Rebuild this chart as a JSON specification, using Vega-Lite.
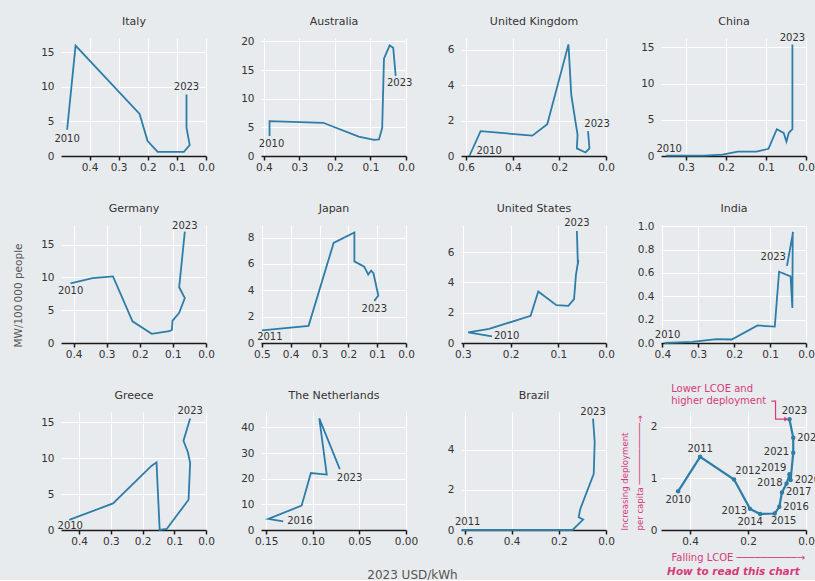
{
  "$schema": "https://vega.github.io/schema/vega-lite/v6.json",
  "background": "#e8ebee",
  "padding": {"left": 13, "top": 15, "right": 0, "bottom": 0},
  "columns": 4,
  "spacing": {"row": 69, "column": 55},
  "bounds": "flush",
  "datasets": {
    "pv": [
      {"c":"Italy","i":0,"x":0.477,"y":3.8,"label":"2010"},
      {"c":"Italy","i":1,"x":0.448,"y":16.0},
      {"c":"Italy","i":2,"x":0.228,"y":6.1},
      {"c":"Italy","i":3,"x":0.201,"y":2.2},
      {"c":"Italy","i":4,"x":0.166,"y":0.6},
      {"c":"Italy","i":5,"x":0.076,"y":0.6},
      {"c":"Italy","i":6,"x":0.056,"y":1.6},
      {"c":"Italy","i":7,"x":0.067,"y":4.1},
      {"c":"Italy","i":8,"x":0.067,"y":8.9,"label":"2023"},

      {"c":"Australia","i":0,"x":0.384,"y":3.5,"label":"2010"},
      {"c":"Australia","i":1,"x":0.384,"y":6.1},
      {"c":"Australia","i":2,"x":0.233,"y":5.8},
      {"c":"Australia","i":3,"x":0.133,"y":3.4},
      {"c":"Australia","i":4,"x":0.090,"y":2.8},
      {"c":"Australia","i":5,"x":0.076,"y":2.9},
      {"c":"Australia","i":6,"x":0.067,"y":4.9},
      {"c":"Australia","i":7,"x":0.062,"y":17.0},
      {"c":"Australia","i":8,"x":0.046,"y":19.3},
      {"c":"Australia","i":9,"x":0.036,"y":18.9},
      {"c":"Australia","i":10,"x":0.029,"y":14.0,"label":"2023"},

      {"c":"UK","i":0,"x":0.586,"y":0.0,"label":"2010"},
      {"c":"UK","i":1,"x":0.538,"y":1.4},
      {"c":"UK","i":2,"x":0.316,"y":1.15},
      {"c":"UK","i":3,"x":0.252,"y":1.8},
      {"c":"UK","i":4,"x":0.161,"y":6.3},
      {"c":"UK","i":5,"x":0.149,"y":3.45},
      {"c":"UK","i":6,"x":0.122,"y":1.2},
      {"c":"UK","i":7,"x":0.125,"y":0.43},
      {"c":"UK","i":8,"x":0.088,"y":0.2},
      {"c":"UK","i":9,"x":0.071,"y":0.43},
      {"c":"UK","i":10,"x":0.077,"y":1.4,"label":"2023"},

      {"c":"China","i":0,"x":0.35,"y":0.05,"label":"2010"},
      {"c":"China","i":1,"x":0.256,"y":0.05},
      {"c":"China","i":2,"x":0.209,"y":0.2},
      {"c":"China","i":3,"x":0.171,"y":0.6},
      {"c":"China","i":4,"x":0.124,"y":0.6},
      {"c":"China","i":5,"x":0.094,"y":1.0},
      {"c":"China","i":6,"x":0.073,"y":3.7},
      {"c":"China","i":7,"x":0.056,"y":3.2},
      {"c":"China","i":8,"x":0.049,"y":2.0},
      {"c":"China","i":9,"x":0.043,"y":3.2},
      {"c":"China","i":10,"x":0.034,"y":3.7},
      {"c":"China","i":11,"x":0.034,"y":15.4,"label":"2023"},

      {"c":"Germany","i":0,"x":0.409,"y":9.1,"label":"2010"},
      {"c":"Germany","i":1,"x":0.343,"y":9.9},
      {"c":"Germany","i":2,"x":0.281,"y":10.15},
      {"c":"Germany","i":3,"x":0.222,"y":3.3},
      {"c":"Germany","i":4,"x":0.164,"y":1.4},
      {"c":"Germany","i":5,"x":0.111,"y":1.8},
      {"c":"Germany","i":6,"x":0.103,"y":2.0},
      {"c":"Germany","i":7,"x":0.101,"y":3.4},
      {"c":"Germany","i":8,"x":0.081,"y":4.6},
      {"c":"Germany","i":9,"x":0.064,"y":6.85},
      {"c":"Germany","i":10,"x":0.081,"y":8.5},
      {"c":"Germany","i":11,"x":0.064,"y":17.0,"label":"2023"},

      {"c":"Japan","i":0,"x":0.500,"y":0.96,"label":"2011"},
      {"c":"Japan","i":1,"x":0.338,"y":1.3},
      {"c":"Japan","i":2,"x":0.251,"y":7.6},
      {"c":"Japan","i":3,"x":0.179,"y":8.4},
      {"c":"Japan","i":4,"x":0.179,"y":6.2},
      {"c":"Japan","i":5,"x":0.145,"y":5.8},
      {"c":"Japan","i":6,"x":0.131,"y":5.2},
      {"c":"Japan","i":7,"x":0.121,"y":5.5},
      {"c":"Japan","i":8,"x":0.113,"y":5.3},
      {"c":"Japan","i":9,"x":0.096,"y":3.6},
      {"c":"Japan","i":10,"x":0.110,"y":3.2,"label":"2023"},

      {"c":"US","i":0,"x":0.239,"y":0.44,"label":"2010"},
      {"c":"US","i":1,"x":0.289,"y":0.7},
      {"c":"US","i":2,"x":0.245,"y":0.93},
      {"c":"US","i":3,"x":0.158,"y":1.8},
      {"c":"US","i":4,"x":0.142,"y":3.4},
      {"c":"US","i":5,"x":0.104,"y":2.5},
      {"c":"US","i":6,"x":0.079,"y":2.45},
      {"c":"US","i":7,"x":0.067,"y":2.9},
      {"c":"US","i":8,"x":0.063,"y":4.5},
      {"c":"US","i":9,"x":0.058,"y":5.5},
      {"c":"US","i":10,"x":0.059,"y":5.2},
      {"c":"US","i":11,"x":0.061,"y":7.4,"label":"2023"},

      {"c":"India","i":0,"x":0.394,"y":0.0,"label":"2010"},
      {"c":"India","i":1,"x":0.317,"y":0.01},
      {"c":"India","i":2,"x":0.250,"y":0.034},
      {"c":"India","i":3,"x":0.207,"y":0.03},
      {"c":"India","i":4,"x":0.135,"y":0.15},
      {"c":"India","i":5,"x":0.087,"y":0.14},
      {"c":"India","i":6,"x":0.075,"y":0.61},
      {"c":"India","i":7,"x":0.043,"y":0.57},
      {"c":"India","i":8,"x":0.038,"y":0.30},
      {"c":"India","i":9,"x":0.037,"y":0.94},
      {"c":"India","i":10,"x":0.036,"y":0.95},
      {"c":"India","i":11,"x":0.053,"y":0.66,"label":"2023"},

      {"c":"Greece","i":0,"x":0.431,"y":1.4,"label":"2010"},
      {"c":"Greece","i":1,"x":0.293,"y":3.7},
      {"c":"Greece","i":2,"x":0.172,"y":8.9},
      {"c":"Greece","i":3,"x":0.156,"y":9.4},
      {"c":"Greece","i":4,"x":0.146,"y":0.0},
      {"c":"Greece","i":5,"x":0.124,"y":0.14},
      {"c":"Greece","i":6,"x":0.055,"y":4.2},
      {"c":"Greece","i":7,"x":0.050,"y":9.35},
      {"c":"Greece","i":8,"x":0.057,"y":10.8},
      {"c":"Greece","i":9,"x":0.071,"y":12.4},
      {"c":"Greece","i":10,"x":0.050,"y":15.5,"label":"2023"},

      {"c":"NL","i":0,"x":0.1317,"y":3.4,"label":"2016"},
      {"c":"NL","i":1,"x":0.1476,"y":4.3},
      {"c":"NL","i":2,"x":0.112,"y":9.5},
      {"c":"NL","i":3,"x":0.108,"y":14.5},
      {"c":"NL","i":4,"x":0.102,"y":22.2},
      {"c":"NL","i":5,"x":0.085,"y":21.6},
      {"c":"NL","i":6,"x":0.093,"y":43.5},
      {"c":"NL","i":7,"x":0.071,"y":23.7,"label":"2023"},

      {"c":"Brazil","i":0,"x":0.612,"y":0.0,"label":"2011"},
      {"c":"Brazil","i":1,"x":0.142,"y":0.0},
      {"c":"Brazil","i":2,"x":0.097,"y":0.52},
      {"c":"Brazil","i":3,"x":0.116,"y":0.63},
      {"c":"Brazil","i":4,"x":0.109,"y":1.05},
      {"c":"Brazil","i":5,"x":0.052,"y":2.8},
      {"c":"Brazil","i":6,"x":0.048,"y":4.4},
      {"c":"Brazil","i":7,"x":0.055,"y":5.55,"label":"2023"},

      {"c":"How","i":0,"x":0.441,"y":0.75,"label":"2010"},
      {"c":"How","i":1,"x":0.365,"y":1.42,"label":"2011"},
      {"c":"How","i":2,"x":0.248,"y":0.98,"label":"2012"},
      {"c":"How","i":3,"x":0.193,"y":0.41,"label":"2013"},
      {"c":"How","i":4,"x":0.158,"y":0.31,"label":"2014"},
      {"c":"How","i":5,"x":0.108,"y":0.32,"label":"2015"},
      {"c":"How","i":6,"x":0.092,"y":0.45,"label":"2016"},
      {"c":"How","i":7,"x":0.083,"y":0.73,"label":"2017"},
      {"c":"How","i":8,"x":0.067,"y":0.90,"label":"2018"},
      {"c":"How","i":9,"x":0.057,"y":1.08,"label":"2019"},
      {"c":"How","i":10,"x":0.053,"y":0.97,"label":"2020"},
      {"c":"How","i":11,"x":0.044,"y":1.50,"label":"2021"},
      {"c":"How","i":12,"x":0.044,"y":1.79,"label":"2022"},
      {"c":"How","i":13,"x":0.057,"y":2.15,"label":"2023"}
    ],
    "ann": [
      {"k":"b","i":0,"x":0.119,"y":2.50},
      {"k":"b","i":1,"x":0.105,"y":2.50},
      {"k":"b","i":2,"x":0.105,"y":2.15},
      {"k":"b","i":3,"x":0.072,"y":2.15},
      {"k":"h","i":0,"x":0.068,"y":2.15},
      {"k":"t","i":0,"x":0.465,"y":2.73,"t":"Lower LCOE and"},
      {"k":"t","i":1,"x":0.465,"y":2.50,"t":"higher deployment"}
    ]
  },
  "concat": [
    {
      "width": 145, "height": 118,
      "data": {"name": "pv"}, "transform": [{"filter": "datum.c == 'Italy'"}],
      "encoding": {
        "x": {"field": "x", "type": "quantitative", "scale": {"domain": [0, 0.498], "reverse": true, "nice": false, "zero": false}, "axis": {"values": [0.4, 0.3, 0.2, 0.1, 0], "format": ".1f", "title": null}},
        "y": {"field": "y", "type": "quantitative", "scale": {"domain": [0, 17.1], "nice": false}, "axis": {"values": [0, 5, 10, 15], "title": "Italy", "style": "paneltitle", "titleAngle": 0, "titleX": 72.5, "titleY": -14, "titleAlign": "center", "titleBaseline": "alphabetic"}}
      },
      "layer": [
        {"mark": {"type": "line", "color": "#2e7ca8", "strokeWidth": 1.8}, "encoding": {"order": {"field": "i", "type": "quantitative"}}},
        {"transform": [{"filter": "datum.label && datum.label != '2023'"}], "mark": {"type": "text", "dy": 9}, "encoding": {"text": {"field": "label"}}},
        {"transform": [{"filter": "datum.label == '2023'"}], "mark": {"type": "text", "dy": -8}, "encoding": {"text": {"field": "label"}}}
      ]
    },
    {
      "width": 145, "height": 118,
      "data": {"name": "pv"}, "transform": [{"filter": "datum.c == 'Australia'"}],
      "encoding": {
        "x": {"field": "x", "type": "quantitative", "scale": {"domain": [0, 0.408], "reverse": true, "nice": false, "zero": false}, "axis": {"values": [0.4, 0.3, 0.2, 0.1, 0], "format": ".1f", "title": null}},
        "y": {"field": "y", "type": "quantitative", "scale": {"domain": [0, 20.6], "nice": false}, "axis": {"values": [0, 5, 10, 15, 20], "title": "Australia", "style": "paneltitle", "titleAngle": 0, "titleX": 72.5, "titleY": -14, "titleAlign": "center", "titleBaseline": "alphabetic"}}
      },
      "layer": [
        {"mark": {"type": "line", "color": "#2e7ca8", "strokeWidth": 1.8}, "encoding": {"order": {"field": "i", "type": "quantitative"}}},
        {"transform": [{"filter": "datum.label && datum.label != '2023'"}], "mark": {"type": "text", "dx": 2, "dy": 8}, "encoding": {"text": {"field": "label"}}},
        {"transform": [{"filter": "datum.label == '2023'"}], "mark": {"type": "text", "dx": 4, "dy": 7}, "encoding": {"text": {"field": "label"}}}
      ]
    },
    {
      "width": 145, "height": 118,
      "data": {"name": "pv"}, "transform": [{"filter": "datum.c == 'UK'"}],
      "encoding": {
        "x": {"field": "x", "type": "quantitative", "scale": {"domain": [0, 0.622], "reverse": true, "nice": false, "zero": false}, "axis": {"values": [0.6, 0.4, 0.2, 0], "format": ".1f", "title": null}},
        "y": {"field": "y", "type": "quantitative", "scale": {"domain": [0, 6.66], "nice": false}, "axis": {"values": [0, 2, 4, 6], "title": "United Kingdom", "style": "paneltitle", "titleAngle": 0, "titleX": 72.5, "titleY": -14, "titleAlign": "center", "titleBaseline": "alphabetic"}}
      },
      "layer": [
        {"mark": {"type": "line", "color": "#2e7ca8", "strokeWidth": 1.8}, "encoding": {"order": {"field": "i", "type": "quantitative"}}},
        {"transform": [{"filter": "datum.label && datum.label != '2023'"}], "mark": {"type": "text", "align": "left", "dx": 7, "dy": -5}, "encoding": {"text": {"field": "label"}}},
        {"transform": [{"filter": "datum.label == '2023'"}], "mark": {"type": "text", "dx": 9, "dy": -7}, "encoding": {"text": {"field": "label"}}}
      ]
    },
    {
      "width": 145, "height": 118,
      "data": {"name": "pv"}, "transform": [{"filter": "datum.c == 'China'"}],
      "encoding": {
        "x": {"field": "x", "type": "quantitative", "scale": {"domain": [0, 0.363], "reverse": true, "nice": false, "zero": false}, "axis": {"values": [0.3, 0.2, 0.1, 0], "format": ".1f", "title": null}},
        "y": {"field": "y", "type": "quantitative", "scale": {"domain": [0, 16.3], "nice": false}, "axis": {"values": [0, 5, 10, 15], "title": "China", "style": "paneltitle", "titleAngle": 0, "titleX": 72.5, "titleY": -14, "titleAlign": "center", "titleBaseline": "alphabetic"}}
      },
      "layer": [
        {"mark": {"type": "line", "color": "#2e7ca8", "strokeWidth": 1.8}, "encoding": {"order": {"field": "i", "type": "quantitative"}}},
        {"transform": [{"filter": "datum.label && datum.label != '2023'"}], "mark": {"type": "text", "dx": 3, "dy": -7}, "encoding": {"text": {"field": "label"}}},
        {"transform": [{"filter": "datum.label == '2023'"}], "mark": {"type": "text", "dy": -7}, "encoding": {"text": {"field": "label"}}}
      ]
    },
    {
      "width": 145, "height": 118,
      "data": {"name": "pv"}, "transform": [{"filter": "datum.c == 'Germany'"}],
      "encoding": {
        "x": {"field": "x", "type": "quantitative", "scale": {"domain": [0, 0.438], "reverse": true, "nice": false, "zero": false}, "axis": {"values": [0.4, 0.3, 0.2, 0.1, 0], "format": ".1f", "title": "Germany", "style": "paneltitle", "titleAngle": 0, "titleX": 72.5, "titleY": -132, "titleAlign": "center", "titleBaseline": "alphabetic"}},
        "y": {"field": "y", "type": "quantitative", "scale": {"domain": [0, 18.0], "nice": false}, "axis": {"values": [0, 5, 10, 15], "title": "MW/100\u2009000 people", "titlePadding": 17, "titleY": 70}}
      },
      "layer": [
        {"mark": {"type": "line", "color": "#2e7ca8", "strokeWidth": 1.8}, "encoding": {"order": {"field": "i", "type": "quantitative"}}},
        {"transform": [{"filter": "datum.label && datum.label != '2023'"}], "mark": {"type": "text", "dy": 8}, "encoding": {"text": {"field": "label"}}},
        {"transform": [{"filter": "datum.label == '2023'"}], "mark": {"type": "text", "dy": -6}, "encoding": {"text": {"field": "label"}}}
      ]
    },
    {
      "width": 145, "height": 118,
      "data": {"name": "pv"}, "transform": [{"filter": "datum.c == 'Japan'"}],
      "encoding": {
        "x": {"field": "x", "type": "quantitative", "scale": {"domain": [0, 0.503], "reverse": true, "nice": false, "zero": false}, "axis": {"values": [0.5, 0.4, 0.3, 0.2, 0.1, 0], "format": ".1f", "title": null}},
        "y": {"field": "y", "type": "quantitative", "scale": {"domain": [0, 8.96], "nice": false}, "axis": {"values": [0, 2, 4, 6, 8], "title": "Japan", "style": "paneltitle", "titleAngle": 0, "titleX": 72.5, "titleY": -14, "titleAlign": "center", "titleBaseline": "alphabetic"}}
      },
      "layer": [
        {"mark": {"type": "line", "color": "#2e7ca8", "strokeWidth": 1.8}, "encoding": {"order": {"field": "i", "type": "quantitative"}}},
        {"transform": [{"filter": "datum.label && datum.label != '2023'"}], "mark": {"type": "text", "dx": 8, "dy": 7}, "encoding": {"text": {"field": "label"}}},
        {"transform": [{"filter": "datum.label == '2023'"}], "mark": {"type": "text", "dy": 8}, "encoding": {"text": {"field": "label"}}}
      ]
    },
    {
      "width": 145, "height": 118,
      "data": {"name": "pv"}, "transform": [{"filter": "datum.c == 'US'"}],
      "encoding": {
        "x": {"field": "x", "type": "quantitative", "scale": {"domain": [0, 0.304], "reverse": true, "nice": false, "zero": false}, "axis": {"values": [0.3, 0.2, 0.1, 0], "format": ".1f", "title": null}},
        "y": {"field": "y", "type": "quantitative", "scale": {"domain": [0, 7.8], "nice": false}, "axis": {"values": [0, 2, 4, 6], "title": "United States", "style": "paneltitle", "titleAngle": 0, "titleX": 72.5, "titleY": -14, "titleAlign": "center", "titleBaseline": "alphabetic"}}
      },
      "layer": [
        {"mark": {"type": "line", "color": "#2e7ca8", "strokeWidth": 1.8}, "encoding": {"order": {"field": "i", "type": "quantitative"}}},
        {"transform": [{"filter": "datum.label && datum.label != '2023'"}], "mark": {"type": "text", "align": "left", "dx": 2, "dy": 0}, "encoding": {"text": {"field": "label"}}},
        {"transform": [{"filter": "datum.label == '2023'"}], "mark": {"type": "text", "dy": -8}, "encoding": {"text": {"field": "label"}}}
      ]
    },
    {
      "width": 145, "height": 118,
      "data": {"name": "pv"}, "transform": [{"filter": "datum.c == 'India'"}],
      "encoding": {
        "x": {"field": "x", "type": "quantitative", "scale": {"domain": [0, 0.404], "reverse": true, "nice": false, "zero": false}, "axis": {"values": [0.4, 0.3, 0.2, 0.1, 0], "format": ".1f", "title": null}},
        "y": {"field": "y", "type": "quantitative", "scale": {"domain": [0, 1.01], "nice": false}, "axis": {"values": [0, 0.2, 0.4, 0.6, 0.8, 1.0], "format": ".1f", "title": "India", "style": "paneltitle", "titleAngle": 0, "titleX": 72.5, "titleY": -14, "titleAlign": "center", "titleBaseline": "alphabetic"}}
      },
      "layer": [
        {"mark": {"type": "line", "color": "#2e7ca8", "strokeWidth": 1.8}, "encoding": {"order": {"field": "i", "type": "quantitative"}}},
        {"transform": [{"filter": "datum.label && datum.label != '2023'"}], "mark": {"type": "text", "dx": 3, "dy": -8}, "encoding": {"text": {"field": "label"}}},
        {"transform": [{"filter": "datum.label == '2023'"}], "mark": {"type": "text", "align": "right", "dx": -1, "dy": -9}, "encoding": {"text": {"field": "label"}}}
      ]
    },
    {
      "width": 145, "height": 118,
      "data": {"name": "pv"}, "transform": [{"filter": "datum.c == 'Greece'"}],
      "encoding": {
        "x": {"field": "x", "type": "quantitative", "scale": {"domain": [0, 0.457], "reverse": true, "nice": false, "zero": false}, "axis": {"values": [0.4, 0.3, 0.2, 0.1, 0], "format": ".1f", "title": null}},
        "y": {"field": "y", "type": "quantitative", "scale": {"domain": [0, 16.4], "nice": false}, "axis": {"values": [0, 5, 10, 15], "title": "Greece", "style": "paneltitle", "titleAngle": 0, "titleX": 72.5, "titleY": -14, "titleAlign": "center", "titleBaseline": "alphabetic"}}
      },
      "layer": [
        {"mark": {"type": "line", "color": "#2e7ca8", "strokeWidth": 1.8}, "encoding": {"order": {"field": "i", "type": "quantitative"}}},
        {"transform": [{"filter": "datum.label && datum.label != '2023'"}], "mark": {"type": "text", "dx": 1, "dy": 6}, "encoding": {"text": {"field": "label"}}},
        {"transform": [{"filter": "datum.label == '2023'"}], "mark": {"type": "text", "dy": -7}, "encoding": {"text": {"field": "label"}}}
      ]
    },
    {
      "width": 145, "height": 118,
      "data": {"name": "pv"}, "transform": [{"filter": "datum.c == 'NL'"}],
      "encoding": {
        "x": {"field": "x", "type": "quantitative", "scale": {"domain": [0, 0.1555], "reverse": true, "nice": false, "zero": false}, "axis": {"values": [0.15, 0.10, 0.05, 0], "format": ".2f", "title": "2023 USD/kWh", "titleX": 151, "titleY": 48, "titleAlign": "center", "titleBaseline": "alphabetic", "titleFontSize": 12, "titleColor": "#555"}},
        "y": {"field": "y", "type": "quantitative", "scale": {"domain": [0, 46], "nice": false}, "axis": {"values": [0, 10, 20, 30, 40], "title": "The Netherlands", "style": "paneltitle", "titleAngle": 0, "titleX": 72.5, "titleY": -14, "titleAlign": "center", "titleBaseline": "alphabetic"}}
      },
      "layer": [
        {"mark": {"type": "line", "color": "#2e7ca8", "strokeWidth": 1.8}, "encoding": {"order": {"field": "i", "type": "quantitative"}}},
        {"transform": [{"filter": "datum.label && datum.label != '2023'"}], "mark": {"type": "text", "align": "left", "dx": 4, "dy": 0}, "encoding": {"text": {"field": "label"}}},
        {"transform": [{"filter": "datum.label == '2023'"}], "mark": {"type": "text", "align": "left", "dx": -3, "dy": 9}, "encoding": {"text": {"field": "label"}}}
      ]
    },
    {
      "width": 145, "height": 118,
      "data": {"name": "pv"}, "transform": [{"filter": "datum.c == 'Brazil'"}],
      "encoding": {
        "x": {"field": "x", "type": "quantitative", "scale": {"domain": [0, 0.615], "reverse": true, "nice": false, "zero": false}, "axis": {"values": [0.6, 0.4, 0.2, 0], "format": ".1f", "title": null}},
        "y": {"field": "y", "type": "quantitative", "scale": {"domain": [0, 5.88], "nice": false}, "axis": {"values": [0, 2, 4], "title": "Brazil", "style": "paneltitle", "titleAngle": 0, "titleX": 72.5, "titleY": -14, "titleAlign": "center", "titleBaseline": "alphabetic"}}
      },
      "layer": [
        {"mark": {"type": "line", "color": "#2e7ca8", "strokeWidth": 1.8}, "encoding": {"order": {"field": "i", "type": "quantitative"}}},
        {"transform": [{"filter": "datum.label && datum.label != '2023'"}], "mark": {"type": "text", "dx": 6, "dy": -8}, "encoding": {"text": {"field": "label"}}},
        {"transform": [{"filter": "datum.label == '2023'"}], "mark": {"type": "text", "dy": -7}, "encoding": {"text": {"field": "label"}}}
      ]
    },
    {
      "title": {"text": "How to read this chart", "orient": "bottom", "anchor": "middle", "frame": "group", "color": "#d63a78", "fontSize": 10.5, "fontWeight": "bold", "fontStyle": "italic", "offset": 4, "baseline": "top"},
      "width": 145, "height": 118,
      "data": {"name": "pv"},
      "encoding": {
        "x": {"field": "x", "type": "quantitative", "scale": {"domain": [0, 0.5], "reverse": true, "nice": false, "zero": false}, "axis": {"values": [0.4, 0.2, 0], "format": ".1f", "title": "Falling LCOE \u2500\u2500\u2500\u2500\u2500\u2500\u2500\u2500\u2500\u2500\u2192", "titleX": 10, "titleAlign": "left", "titleColor": "#d63a78", "titleFontSize": 10, "titlePadding": 6}},
        "y": {"field": "y", "type": "quantitative", "scale": {"domain": [0, 2.29], "nice": false}, "axis": {"values": [0, 1, 2], "title": ["Increasing deployment", "per capita \u2500\u2500\u2500\u2500\u2500\u2500\u2500\u2500\u2500\u2500\u2500\u2500\u2192"], "titleAnchor": "start", "titleColor": "#d63a78", "titleFont": "DejaVu Sans Condensed", "titleFontSize": 9.5, "titleLineHeight": 15, "titlePadding": 6, "labelPadding": 4}}
      },
      "layer": [
        {"transform": [{"filter": "datum.c == 'How'"}], "mark": {"type": "line", "color": "#2e7ca8", "strokeWidth": 2.2}, "encoding": {"order": {"field": "i", "type": "quantitative"}}},
        {"transform": [{"filter": "datum.c == 'How'"}], "mark": {"type": "point", "filled": true, "color": "#2e7ca8", "size": 20, "opacity": 1}},
        {"transform": [{"filter": "datum.c == 'How'"}, {"filter": {"field": "label", "oneOf": ["2010"]}}], "mark": {"type": "text", "dy": 9}, "encoding": {"text": {"field": "label"}}},
        {"transform": [{"filter": "datum.c == 'How'"}, {"filter": {"field": "label", "oneOf": ["2011"]}}], "mark": {"type": "text", "dy": -8}, "encoding": {"text": {"field": "label"}}},
        {"transform": [{"filter": "datum.c == 'How'"}, {"filter": {"field": "label", "oneOf": ["2012"]}}], "mark": {"type": "text", "dx": 14, "dy": -9}, "encoding": {"text": {"field": "label"}}},
        {"transform": [{"filter": "datum.c == 'How'"}, {"filter": {"field": "label", "oneOf": ["2013"]}}], "mark": {"type": "text", "align": "right", "dx": -3, "dy": 2}, "encoding": {"text": {"field": "label"}}},
        {"transform": [{"filter": "datum.c == 'How'"}, {"filter": {"field": "label", "oneOf": ["2014"]}}], "mark": {"type": "text", "dx": -10, "dy": 8}, "encoding": {"text": {"field": "label"}}},
        {"transform": [{"filter": "datum.c == 'How'"}, {"filter": {"field": "label", "oneOf": ["2015"]}}], "mark": {"type": "text", "dx": 9, "dy": 7}, "encoding": {"text": {"field": "label"}}},
        {"transform": [{"filter": "datum.c == 'How'"}, {"filter": {"field": "label", "oneOf": ["2016", "2017", "2020", "2022"]}}], "mark": {"type": "text", "align": "left", "dx": 4}, "encoding": {"text": {"field": "label"}}},
        {"transform": [{"filter": "datum.c == 'How'"}, {"filter": {"field": "label", "oneOf": ["2018", "2021"]}}], "mark": {"type": "text", "align": "right", "dx": -4, "dy": -1}, "encoding": {"text": {"field": "label"}}},
        {"transform": [{"filter": "datum.c == 'How'"}, {"filter": {"field": "label", "oneOf": ["2019"]}}], "mark": {"type": "text", "align": "right", "dx": -3, "dy": -6}, "encoding": {"text": {"field": "label"}}},
        {"transform": [{"filter": "datum.c == 'How'"}, {"filter": {"field": "label", "oneOf": ["2023"]}}], "mark": {"type": "text", "dx": 5, "dy": -8}, "encoding": {"text": {"field": "label"}}},
        {"data": {"name": "ann"}, "transform": [{"filter": "datum.k == 'b'"}], "mark": {"type": "line", "color": "#d63a78", "strokeWidth": 1.2}, "encoding": {"order": {"field": "i", "type": "quantitative"}}},
        {"data": {"name": "ann"}, "transform": [{"filter": "datum.k == 'h'"}], "mark": {"type": "point", "shape": "triangle-right", "filled": true, "color": "#d63a78", "size": 22, "opacity": 1}},
        {"data": {"name": "ann"}, "transform": [{"filter": "datum.k == 't'"}], "mark": {"type": "text", "align": "left", "color": "#d63a78", "fontSize": 10}, "encoding": {"text": {"field": "t"}}}
      ]
    }
  ],
  "config": {
    "view": {"stroke": null},
    "font": "DejaVu Sans",
    "axis": {"labelFont": "DejaVu Sans", "labelFontSize": 10.5, "labelColor": "#333333", "gridColor": "#ffffff", "gridWidth": 1, "gridOpacity": 1, "domain": false, "ticks": false, "labelFlush": false, "labelOverlap": false, "labelBound": false, "titleFont": "DejaVu Sans", "titleFontWeight": "normal", "titleColor": "#555555", "titleFontSize": 10.5},
    "axisX": {"domain": true, "domainColor": "#1a1a1a", "domainWidth": 1.6, "ticks": true, "tickColor": "#1a1a1a", "tickWidth": 1.5, "tickSize": 4, "labelPadding": 2},
    "axisY": {"labelPadding": 7},
    "style": {"paneltitle": {"titleFontSize": 11, "titleColor": "#333333", "titleFont": "DejaVu Sans", "titleFontWeight": "normal"}},
    "title": {"font": "DejaVu Sans", "fontSize": 11, "fontWeight": "normal", "color": "#333333", "anchor": "middle", "offset": 11, "baseline": "bottom"},
    "text": {"font": "DejaVu Sans", "fontSize": 10, "color": "#333333", "baseline": "middle"}
  }
}
